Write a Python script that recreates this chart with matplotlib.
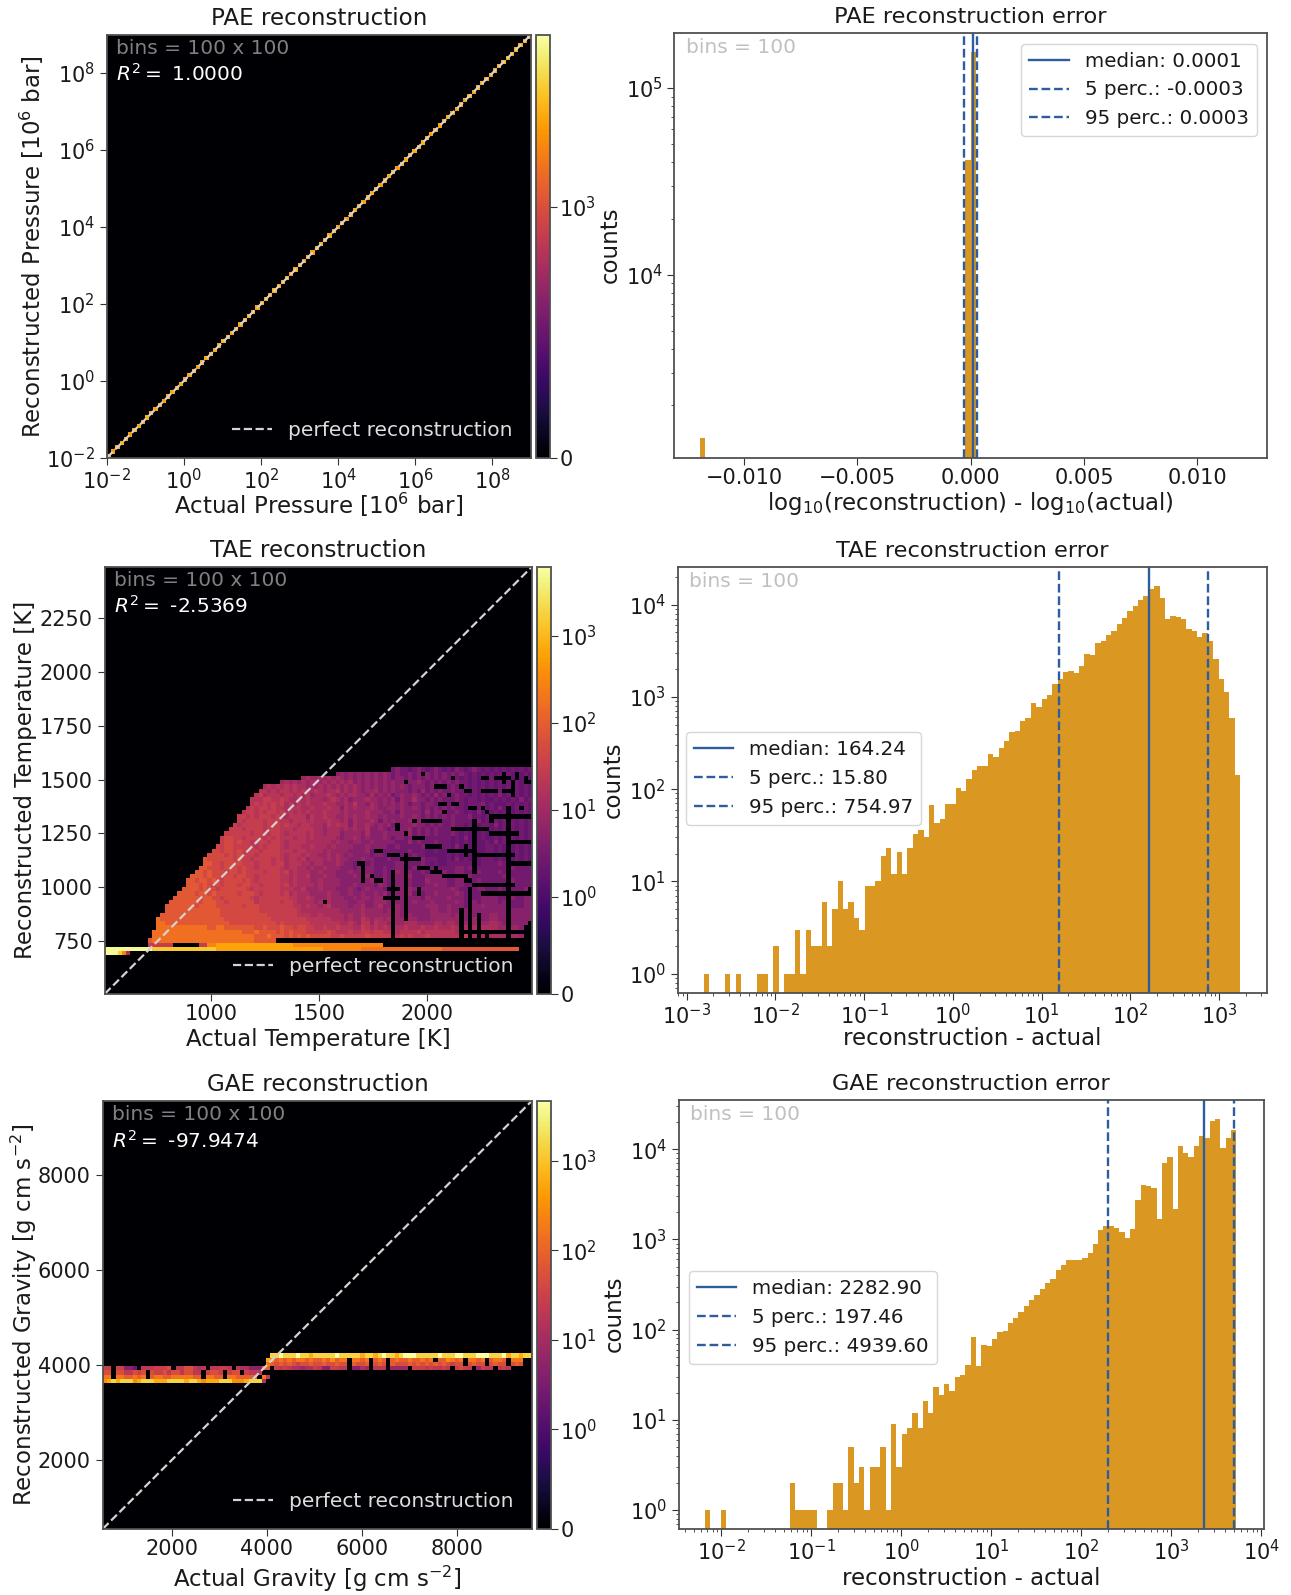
import numpy as np
import matplotlib
matplotlib.use('Agg')
import matplotlib.pyplot as plt
from matplotlib.colors import SymLogNorm

plt.rcParams['font.family'] = ['DejaVu Sans']
plt.rcParams['axes.edgecolor'] = '#505050'
plt.rcParams['axes.linewidth'] = 1.3
plt.rcParams['text.color'] = '#1a1a1a'
plt.rcParams['axes.labelcolor'] = '#1a1a1a'
plt.rcParams['xtick.color'] = '#333333'
plt.rcParams['ytick.color'] = '#333333'
plt.rcParams['xtick.labelcolor'] = '#1a1a1a'
plt.rcParams['ytick.labelcolor'] = '#1a1a1a'

W, H = 1269, 1568
BAR = '#DA9822'
LINE = '#2D5D9F'

# counts in the heatmaps, written as one character per cell
tier_chars = '.123456789abcdef'
tier_counts = [0, 1, 2, 3, 5, 8, 13, 20, 30, 50, 85, 170, 300, 600, 1500, 5000]

# PAE heatmap: only the diagonal has counts
pae_diag = [2600, 2300, 2500, 2700, 2400, 2200, 2600, 2500, 2300, 2700,
            2500, 2400, 2600, 2300, 2700, 2500, 2200, 2600, 2400, 2500,
            2700, 2300, 2500, 2600, 2400, 2500, 2300, 2700, 2600, 2400,
            2200, 2500, 2600, 2700, 2300, 2400, 2600, 2500, 2300, 2700,
            2500, 2400, 2600, 2200, 2700, 2500, 2300, 2600, 2400, 2500,
            2700, 2300, 2500, 2600, 2400, 2500, 2200, 2700, 2600, 2400,
            2300, 2500, 2600, 2700, 2300, 2400, 2600, 2500, 2200, 2700,
            2500, 2400, 2600, 2300, 2700, 2500, 2300, 2600, 2400, 2500,
            2700, 2200, 2500, 2600, 2400, 2500, 2300, 2700, 2600, 2400,
            2300, 2500, 2600, 2700, 2300, 2400, 2600, 2500, 2300, 2600]

# TAE heatmap: row index, first filled column, tiers from there on
tae_rows = [
    (52, 67, '343 3234323432 3243234323 2323232323'),
    (51, 54, '454545 4545454343 3434343434 3434323232 3232323232'),
    (50, 46, '5655 6565654545 4545454344 3434343434 3432323232 3232323232'),
    (49, 41, '565656566 5656565645 4545454544 3445434343 4343323232 3232323232'),
    (48, 37, '676 7676766565 6565656565 4545454545 4344434343 3433323232 3232323232'),
    (47, 36, '7767 6776767667 6566756565 4556454544 4343534343 3433323242 3232323232'),
    (46, 35, '78677 7677676756 6676565665 5464545345 4454343534 3343323232 3242323232'),
    (45, 34, '777887 7876676766 6567656455 5655454535 4464434343 3343233232 2323232423'),
    (44, 34, '787878 7867676766 6766556575 5465454545 4344344353 3433233342 3222323232'),
    (43, 33, '7878878 7767776676 6676646565 5565445545 4454343434 3433232322 3242323232'),
    (42, 32, '78878788 7877676766 6766656555 5655544535 4444353443 3343232423 2323223232'),
    (41, 31, '887878887 8767777576 6766556565 5655454445 4454343434 3433342323 2323232323'),
    (40, 31, '878888788 8776777676 6676656465 5565354544 4544434343 3433332423 2323232323'),
    (39, 30, '8788888788 8787767766 6576766465 5654545354 4454434343 3433233233 2423232323'),
    (38, 29, '8 8878888788 8777677776 6566656565 5644543444 4534343433 3423233232 2323232323'),
    (37, 28, '88 8888788878 8767777676 6566645555 4644454444 3534343433 3432323232 2323242323'),
    (36, 27, '899 8878888787 8777677676 6666545565 4544454344 3434433333 3232423232 2323232323'),
    (35, 27, '899 8988788878 8767777666 6665655455 4454444433 3534333433 3232323223 2423232323'),
    (34, 26, '9899 8888878788 8767776676 6656555544 4544443343 3333433333 3242323223 3232323232'),
    (33, 25, '99899 8988887888 8777677666 6565555444 4534433333 3433322322 3232423223 3232323232'),
    (32, 24, '999989 8988878888 8767776766 5565654544 4434433343 3343322222 3232323233 3242323232'),
    (31, 23, 'a999999 8988788887 8767767566 6565655444 5443334333 4333433322 3242323233 3232323232'),
    (30, 23, 'aa99899 9988878887 8867776656 6555654434 3343333344 4333432322 3333332233 3343333233'),
    (29, 22, 'aa999899 9898878888 8767766565 5655544434 3443343344 4343333333 3344343333 3333343333'),
    (28, 21, 'aa9a99989 9898888788 8786766655 6555444544 3443343354 4433434444 3344333433 3343333333'),
    (27, 20, 'aaa9a99999 8998878888 8776766755 5655444454 3543343344 4533344444 3354343333 3334333333'),
    (26, 19, 'a a9aa9a9899 9989878888 8776766655 6555544444 3453343344 4433354444 3344333433 3333343333'),
    (25, 19, 'a aa9a989899 9899887888 8786766665 6555544454 4443543344 4433344544 3344333344 3333433333'),
    (24, 18, 'aa aa9a99899 9999878888 8877766755 5655544454 3454443454 4454344444 4454333344 3334333334'),
    (23, 17, 'aaa a9aa9a9999 9899987888 8786766655 5565544544 5445453444 4534344544 4454333344 3343333344'),
    (22, 16, 'aaaa aa9aa99899 9999878888 8887766765 5565554454 5545543544 4444354444 5444333344 4433343344'),
    (21, 15, 'aaaaa aa9aaa9989 9999978888 8788766665 6665555445 5445554444 4454445444 4454334344 4434433344'),
    (20, 14, 'aaaaaa a9aaaa9999 9989998888 8888776766 5675555455 6445644454 4444455544 5444334454 4444533344'),
    (19, 14, 'aaaaaa aaaaaaa999 9999998888 8888876666 6666655555 6555545454 4444445544 5444444444 4444444444'),
    (18, 13, 'aaaaaaa aaaaaaa999 9999999988 8888877766 7666665655 6555555454 5544445555 5454444444 5544444444'),
    (17, 12, 'baaaaaaa aaaaaaaa99 9999999998 8888888777 7776665655 7656656555 5554445555 5555445544 5544444444'),
    (16, 12, 'bbaaaaaa aaaaaaaaa9 9999999999 8988888877 7777766765 7757665655 6665555665 6655555555 6654544444'),
    (15, 12, 'bbbbbbbb bbbbaabbaa aaaaa99a99 9a99899887 7877877766 8767676766 7666766766 6766666666 6655555444'),
    (14, 11, 'bbbbbbbbb bbbbbbbbbb bbaaabaaaa 9a9a999888 8898777877 8878877767 7778677777 7767676666 6666666555'),
    (13, 11, 'bbbbbbbbb bbbbbbbbbb bbbbbaaaba aa9a9a9a99 9998898888 8988888878 7877787777 7777876666 6666666555'),
    (12, 10, 'a bbbbbbbbb bbbbbbbbbb bbbbbaaaaa'),
    (11, 10, '888888 ...... 88 ccdddddddd dddddddddd ccccccccccc cccccccccc'),
    (10, 0, 'ffffffffff feeeeeeeee eeeeeedddd dddddddddd dddddddddd dcccccccc cbbbbbbbbb bbbbbbbbbb aaaaaaaaaa aaaaaaaa'),
    (9, 0, 'fffec6'),
]

# TAE heatmap: empty cells inside the filled area, row -> columns
tae_empty = {
    51: [74, 93, 96],
    50: [81, 88, 89, 91, 92, 93, 94, 96, 98],
    49: [70, 93, 95, 98, 99],
    48: [77, 78, 79, 83, 95],
    47: [84, 85, 88, 89, 90, 91, 93, 94, 95],
    46: [80, 95],
    44: [78, 79, 81, 82],
    43: [85, 86, 88, 94, 97],
    42: [79, 89, 94],
    41: [90, 91, 92, 93, 94, 95, 96, 97, 98, 99],
    40: [72, 74, 75, 76, 77, 78, 86, 90, 94],
    39: [68, 86, 94],
    38: [68, 81, 82, 83, 84, 85, 86, 87, 88, 89, 94],
    37: [70, 86, 90, 91, 92, 93, 94, 95, 96],
    36: [72, 73, 74, 86, 94],
    35: [86, 94, 95, 96, 97, 98, 99],
    34: [75, 76, 77, 78, 84, 86, 94],
    33: [63, 64, 80, 81, 82, 83, 84, 85, 86, 94],
    32: [66, 67, 68, 70, 84, 86, 87, 88, 89, 90, 91, 92, 93, 94, 95],
    31: [69, 70, 71, 72, 73, 86, 94],
    30: [59, 60, 70, 86, 94, 95, 96, 97, 98, 99],
    29: [60, 70, 73, 74, 75, 77, 86, 94],
    28: [60, 67, 70, 76, 77, 78, 86, 94],
    27: [60, 62, 67, 70, 79, 80, 81, 82, 83, 84, 94],
    26: [60, 63, 64, 67, 70, 84, 85, 94],
    25: [67, 70, 86, 87, 88, 89, 90, 91, 92, 93, 94, 95],
    24: [66, 67, 68, 70, 73, 85, 94],
    23: [67, 70, 73, 85, 88, 89, 90, 91, 92, 93, 94, 95, 96, 97, 98, 99],
    22: [65, 66, 67, 68, 70, 85, 94],
    21: [51, 67, 70, 85, 94],
    20: [67, 70, 85, 94],
    19: [67, 70, 83, 85, 94],
    18: [67, 70, 83, 85, 87, 94],
    17: [67, 70, 83, 85, 87, 94],
    16: [67, 83, 85, 87, 94, 99],
    15: [67, 83, 85, 87, 94, 98, 99],
    14: [67, 83, 84, 85, 86, 87, 88, 89, 90, 91, 92, 93, 94, 95, 96, 97, 98, 99],
    13: [67, 83, 85, 87, 89, 94, 98, 99],
}

# GAE heatmap: row index, first filled column, tiers from there on
gae_rows = [
    (40, 39, 'eefeeefeed eeeeefeeee edeedefeed efffeeeeef eeeffeeeff feeefdeedeeee'),
    (39, 38, 'dcabababba baabacabb. bbab.aba.a baabaabab. aacbab.bba b.abba.bbb'),
    (38, 38, 'ba9a9a9899 a99a99a99. a99a.9a9.a 999a9a9a9a 9a9899.9a9 9.9a99.9a9'),
    (37, 0, '88.88442.7 778889.779 9767.77887 .7664447'),
    (37, 37, 'aa.87876656 687448877. 4465.777.5 555.888787 787.8987.5 877.787'),
    (36, 0, '99.9977989 .988979979 977.8998.8 99.8777.'),
    (35, 0, 'bb.bbaabab .abbaabbbb baa.bbaa.b baaaaa.b7'),
    (34, 0, 'cdedeeecde eedddeeeed eedcdddeee cccdeee6'),
]

# error histograms: one count per bin
pae_err_counts = [1335] + [0] * 47 + [41000, 155000] + [0] * 50
tae_err_counts = [1, 0, 0, 0, 1, 0, 1, 0, 0, 0,
                  1, 1, 0, 2, 0, 1, 1, 3, 1, 3,
                  2, 2, 6, 2, 5, 10, 5, 6, 4, 3,
                  9, 9, 10, 19, 23, 12, 21, 12, 23, 33,
                  36, 30, 68, 43, 47, 69, 69, 103, 96, 130,
                  161, 180, 180, 243, 226, 282, 332, 418, 430, 545,
                  590, 850, 770, 945, 1060, 1370, 1580, 1860, 1930, 1820,
                  2150, 2950, 2880, 3840, 4090, 4700, 5240, 6150, 7250, 8500,
                  9700, 11200, 12500, 14700, 16100, 11900, 7000, 7500, 7300, 7000,
                  5400, 5200, 4500, 4900, 4000, 2600, 1580, 1120, 590, 143]
gae_err_counts = [1, 0, 0, 1, 0, 0, 0, 0, 0, 0,
                  0, 0, 0, 0, 0, 0, 2, 1, 1, 1,
                  1, 0, 0, 1, 2, 2, 1, 5, 2, 3,
                  1, 3, 3, 5, 1, 9, 3, 7, 8, 12,
                  8, 16, 12, 23, 19, 25, 21, 30, 31, 40,
                  82, 39, 67, 66, 79, 93, 97, 119, 134, 156,
                  181, 214, 243, 279, 331, 368, 454, 522, 585, 595,
                  590, 630, 710, 890, 1280, 1400, 1400, 1330, 1210, 1030,
                  1300, 2750, 4000, 3950, 3700, 1700, 7000, 8300, 2200, 11000,
                  9000, 8300, 11000, 14000, 13400, 20500, 21500, 10400, 13400, 16400]

pae_stats = [0.0001, -0.0003, 0.0003]
tae_stats = [164.24, 15.80, 754.97]
gae_stats = [2282.90, 197.46, 4939.60]
pae_labels = ['median: 0.0001', '5 perc.: -0.0003', '95 perc.: 0.0003']
tae_labels = ['median: 164.24', '5 perc.: 15.80', '95 perc.: 754.97']
gae_labels = ['median: 2282.90', '5 perc.: 197.46', '95 perc.: 4939.60']

pow_labels = ['0', '$10^0$', '$10^1$', '$10^2$', '$10^3$']
pow_ticks = [0, 1, 10, 100, 1000]


def place(fig, x0, y0, x1, y1):
    return fig.add_axes([x0 / W, 1 - y1 / H, (x1 - x0) / W, (y1 - y0) / H])


def cells(rows, empty=None):
    grid = np.zeros((100, 100))
    for row, start, text in rows:
        text = text.replace(' ', '')
        for i, c in enumerate(text[:100 - start]):
            grid[row, start + i] = tier_counts[tier_chars.index(c)]
    if empty:
        for row, cols in empty.items():
            grid[row, cols] = 0
    return grid


def heatmap(fig, box, cbox, edges, grid, norm, ticks, tick_labels, r2, title, xlabel, ylabel, xpad, ypad):
    ax = place(fig, *box)
    mesh = ax.pcolormesh(edges, edges, grid, cmap='inferno', norm=norm, rasterized=True)
    ax.plot([edges[0], edges[-1]], [edges[0], edges[-1]], color='lightgray', ls='--', lw=1.6,
            label='perfect reconstruction')
    ax.set_xlim(edges[0], edges[-1])
    ax.set_ylim(edges[0], edges[-1])
    ax.set_title(title, fontsize=16.6, pad=7)
    ax.set_xlabel(xlabel, fontsize=16.5, labelpad=xpad)
    ax.set_ylabel(ylabel, fontsize=16.5, labelpad=ypad)
    ax.tick_params(labelsize=15, length=5)
    ax.tick_params(axis='x', pad=2.5)
    ax.text(0.022, 0.967, 'bins = 100 x 100', transform=ax.transAxes, color='gray', fontsize=14.5, va='center')
    ax.text(0.022, 0.907, '$R^2 =$ ' + r2, transform=ax.transAxes, color='white', fontsize=14.5, va='center')
    ax.legend(loc='lower right', frameon=False, fontsize=14.5, labelcolor='#dddddd')
    cax = place(fig, *cbox)
    cb = fig.colorbar(mesh, cax=cax)
    cb.set_ticks(ticks, labels=tick_labels)
    cb.ax.minorticks_off()
    cb.ax.tick_params(labelsize=15, length=5, pad=1.5)
    return ax


def errhist(fig, box, edges, counts, stats, labels, xlim, ylim, title, xlabel, legloc, legbox, xpad):
    ax = place(fig, *box)
    centers = (np.asarray(edges[:-1]) + np.asarray(edges[1:])) / 2
    ax.hist(centers, bins=edges, weights=counts, color=BAR)
    ax.set_yscale('log')
    ax.axvline(stats[0], color=LINE, lw=1.7, label=labels[0])
    ax.axvline(stats[1], color=LINE, lw=1.7, ls='--', label=labels[1])
    ax.axvline(stats[2], color=LINE, lw=1.7, ls='--', label=labels[2])
    ax.set_xlim(*xlim)
    ax.set_ylim(*ylim)
    ax.set_title(title, fontsize=16.2, pad=7)
    ax.set_xlabel(xlabel, fontsize=16.5, labelpad=xpad)
    ax.set_ylabel('counts', fontsize=16.5, labelpad=3)
    ax.tick_params(labelsize=15)
    ax.tick_params(axis='x', pad=2.5)
    ax.tick_params(which='major', length=5)
    ax.text(0.02, 0.966, 'bins = 100', transform=ax.transAxes, color='silver', fontsize=14.5, va='center')
    ax.legend(loc=legloc, bbox_to_anchor=legbox, borderaxespad=0, fontsize=14.3)
    return ax


def main():
    fig = plt.figure(figsize=(12.91, 15.95), dpi=100)

    # pressure row
    pae_edges = np.logspace(-2, 9, 101)
    ax = heatmap(fig, (105, 34, 522, 450), (527, 34, 541, 450), pae_edges, np.diag(pae_diag),
                 SymLogNorm(linthresh=1000, linscale=1, vmin=0, vmax=5800, base=10),
                 [0, 1000], ['0', '$10^3$'], '1.0000', 'PAE reconstruction',
                 'Actual Pressure [$10^6$ bar]', 'Reconstructed Pressure [$10^6$ bar]', -2, 0)
    ax.set_xscale('log')
    ax.set_yscale('log')
    ax.set_xticks([1e-2, 1e0, 1e2, 1e4, 1e6, 1e8])
    ax.set_yticks([1e-2, 1e0, 1e2, 1e4, 1e6, 1e8])
    ax.minorticks_off()
    ax.set_xlim(1e-2, 1e9)
    ax.set_ylim(1e-2, 1e9)

    errhist(fig, (663, 32, 1245, 450), np.linspace(-0.01196, 0.01244, 101), pae_err_counts, pae_stats, pae_labels,
            (-0.01307, 0.01306), (1050, 198000), 'PAE reconstruction error',
            'log$_{10}$(reconstruction) - log$_{10}$(actual)', 'upper right', (0.983, 0.974), 1)

    # temperature row
    tae_edges = np.linspace(505, 2489, 101)
    ax = heatmap(fig, (103, 557, 523, 977), (528, 557, 542, 977), tae_edges, cells(tae_rows, tae_empty),
                 SymLogNorm(linthresh=1, linscale=1, vmin=0, vmax=6200, base=10),
                 pow_ticks, pow_labels, '-2.5369', 'TAE reconstruction',
                 'Actual Temperature [K]', 'Reconstructed Temperature [K]', 3, 2.5)
    ax.set_xticks([1000, 1500, 2000])
    ax.set_yticks([750, 1000, 1250, 1500, 1750, 2000, 2250])

    ax = errhist(fig, (666, 557, 1245, 976), np.logspace(-2.808, 3.236, 101), tae_err_counts, tae_stats, tae_labels,
                 (10**-3.102, 10**3.535), (0.62, 25900), 'TAE reconstruction error',
                 'reconstruction - actual', 'lower left', (0.0138, 0.394), -1)
    ax.set_xscale('log')
    ax.set_xlim(10**-3.102, 10**3.535)

    # gravity row
    gae_edges = np.linspace(555, 9575, 101)
    ax = heatmap(fig, (101, 1082, 523, 1503), (528, 1082, 542, 1503), gae_edges, cells(gae_rows),
                 SymLogNorm(linthresh=1, linscale=1, vmin=0, vmax=4700, base=10),
                 pow_ticks, pow_labels, '-97.9474', 'GAE reconstruction',
                 'Actual Gravity [g cm s$^{-2}$]', 'Reconstructed Gravity [g cm s$^{-2}$]', 3, -0.5)
    ax.set_xticks([2000, 4000, 6000, 8000])
    ax.set_yticks([2000, 4000, 6000, 8000])

    ax = errhist(fig, (667, 1081, 1242, 1503), np.logspace(-2.18, 3.722, 101), gae_err_counts, gae_stats, gae_labels,
                 (10**-2.474, 10**4.025), (0.614, 35600), 'GAE reconstruction error',
                 'reconstruction - actual', 'lower left', (0.0174, 0.384), 2)
    ax.set_xscale('log')
    ax.set_xlim(10**-2.474, 10**4.025)

    fig.savefig('out.png', dpi=100)


if __name__ == '__main__':
    main()
